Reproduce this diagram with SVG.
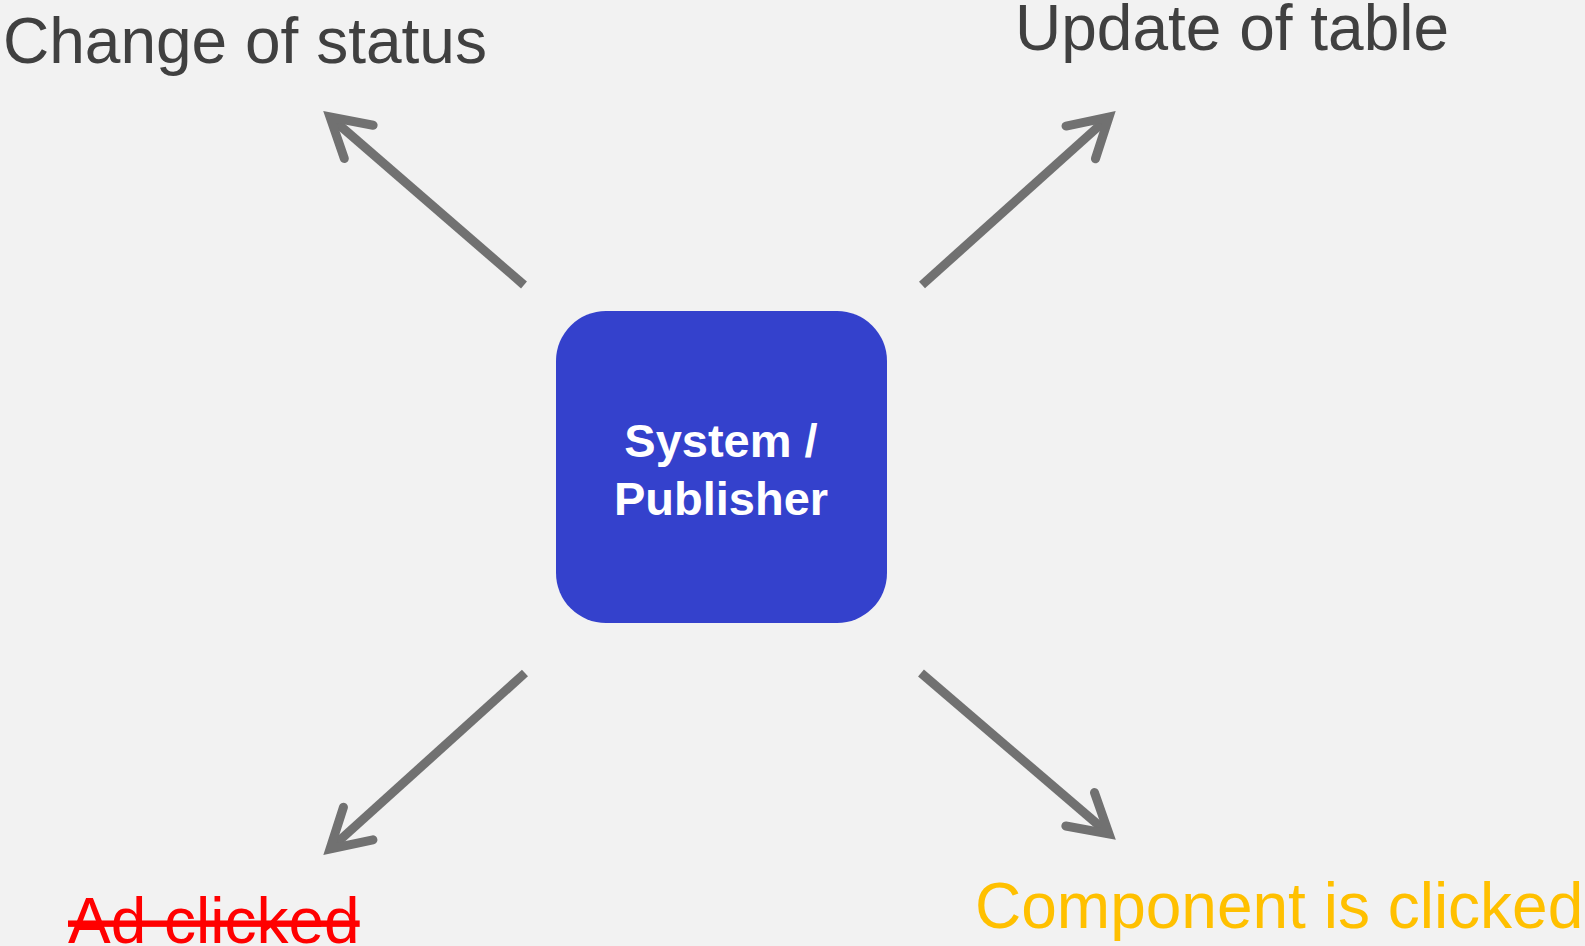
<svg xmlns="http://www.w3.org/2000/svg" width="1585" height="946" viewBox="0 0 1585 946">
  <style>
    .lbl { font-family: "Liberation Sans", Arial, sans-serif; font-size: 64px; }
    .dark { fill: #404040; }
    .node-text { font-family: "Liberation Sans", Arial, sans-serif; font-size: 47px; font-weight: bold; fill: #FFFFFF; }
    .conn { stroke: #717171; stroke-width: 9; fill: none; }
  </style>
  <defs>
    <marker id="arrow" markerUnits="userSpaceOnUse" orient="auto" markerWidth="60" markerHeight="60" viewBox="-50 -30 60 60" refX="0" refY="0" overflow="visible">
      <path d="M -38,-22 L 0,0 L -38,22" fill="none" stroke="#717171" stroke-width="9" stroke-linecap="round" stroke-linejoin="miter" stroke-miterlimit="10"/>
    </marker>
  </defs>
  <rect x="0" y="0" width="1585" height="946" fill="#F2F2F2"/>

  <g id="connectors">
    <line class="conn" x1="524" y1="285" x2="330" y2="117" marker-end="url(#arrow)"/>
    <line class="conn" x1="922" y1="285" x2="1109" y2="117" marker-end="url(#arrow)"/>
    <line class="conn" x1="525" y1="673" x2="330" y2="849" marker-end="url(#arrow)"/>
    <line class="conn" x1="921" y1="673" x2="1109" y2="834" marker-end="url(#arrow)"/>
  </g>

  <g id="node-publisher">
    <rect x="556" y="311" width="331" height="312" rx="50" ry="50" fill="#3441CC"/>
    <text class="node-text" x="721" y="457" text-anchor="middle">System /</text>
    <text class="node-text" x="721" y="515" text-anchor="middle">Publisher</text>
  </g>

  <g id="label-change-of-status">
    <text class="lbl dark" x="3" y="63">Change of status</text>
  </g>
  <g id="label-update-of-table">
    <text class="lbl dark" x="1015" y="50">Update of table</text>
  </g>
  <g id="label-ad-clicked">
    <text class="lbl" x="68" y="943" fill="#FF0000" text-decoration="line-through">Ad clicked</text>
  </g>
  <g id="label-component-clicked">
    <text class="lbl" x="975" y="928" fill="#FFC000">Component is clicked</text>
  </g>
</svg>
